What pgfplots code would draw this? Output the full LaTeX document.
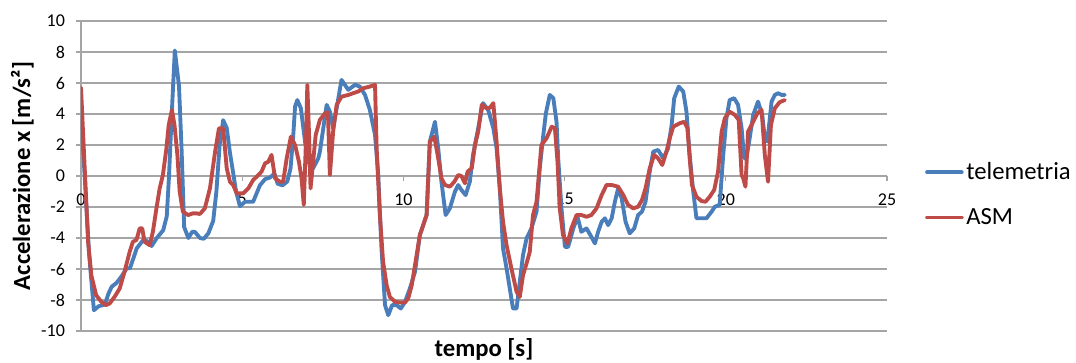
\documentclass[border=0pt]{standalone}
\usepackage{pgfplots}
\pgfplotsset{compat=1.18}
\usepackage{fontspec}
\setmainfont{Carlito}
\definecolor{telblue}{RGB}{74,126,187}
\definecolor{asmred}{RGB}{190,75,72}
\definecolor{gridgray}{RGB}{165,165,165}
\begin{document}
\begin{tikzpicture}
\path[use as bounding box] (-60.75pt,-24pt) rectangle (746.25pt,248.25pt);
\begin{axis}[
  at={(0pt,0pt)}, anchor=south west,
  scale only axis,
  width=604.5pt, height=232.5pt,
  xmin=0, xmax=25, ymin=-10, ymax=10,
  enlargelimits=false,
  axis x line=middle, axis y line=left,
  hide obscured x ticks=false,
  axis line style={draw=gridgray, line width=1pt, -},
  xtick={0,5,10,15,20,25},
  ytick={-10,-8,-6,-4,-2,0,2,4,6,8,10},
  ymajorgrids,
  major grid style={draw=gridgray, line width=1pt},
  tick style={draw=gridgray, line width=1pt},
  major tick length=3.5pt,
  tick align=outside,
  xtick align=outside,
  /pgf/number format/assume math mode=true,
  tick label style={font=\fontsize{13.5}{15}\selectfont, text=black},
  xticklabel style={yshift=-6pt},
  yticklabel style={xshift=-5pt},
  every axis x label/.style={at={(axis description cs:0.5,0)}, yshift=-14pt, anchor=center},
  every axis y label/.style={at={(axis description cs:0,0.5)}, xshift=-44pt, rotate=90, anchor=center},
  xlabel={\fontsize{18.5}{22}\selectfont\bfseries tempo [s]},
  ylabel={\fontsize{18.5}{22}\selectfont\bfseries Accelerazione x [m/s²]},
  legend style={at={(axis description cs:1.047,0.44)}, anchor=west, draw=none, fill=none,
    font=\fontsize{18.5}{21}\selectfont, row sep=16pt, inner sep=0pt},
  legend cell align=left,
  legend image code/.code={\draw[#1] (0pt,0pt) -- (26pt,0pt);},
  every axis plot/.append style={line width=2.9pt, line join=round, line cap=round},
]
\addplot[color=telblue] coordinates {
(0.0,4.0)(0.1,0.5)(0.25,-5.0)(0.4,-8.66)(0.55,-8.4)(0.74,-8.3)(0.85,-7.6)(0.95,-7.15)
(1.1,-6.9)(1.25,-6.5)(1.42,-5.95)(1.52,-5.95)(1.73,-4.66)(1.93,-4.13)(2.05,-4.2)(2.19,-4.52)
(2.35,-4.0)(2.55,-3.5)(2.66,-2.6)(2.73,0)(2.81,3.8)(2.91,8.1)(3.04,5.8)(3.12,1.7)
(3.2,-3.3)(3.33,-4.0)(3.45,-3.6)(3.53,-3.6)(3.69,-4.0)(3.81,-4.05)(3.95,-3.7)(4.1,-2.9)
(4.2,-1.0)(4.3,2.0)(4.41,3.6)(4.52,3.1)(4.62,1.5)(4.72,0.2)(4.81,-1.0)(4.93,-1.95)
(5.09,-1.66)(5.34,-1.66)(5.55,-0.6)(5.71,-0.2)(5.86,-0.1)(6.0,0.15)(6.1,-0.5)(6.25,-0.6)
(6.4,-0.35)(6.5,0.5)(6.58,2.5)(6.64,4.48)(6.71,4.9)(6.82,4.37)(6.95,2.2)(7.05,0.9)
(7.2,0.5)(7.36,1.14)(7.41,1.57)(7.62,4.59)(7.72,4.15)(7.82,3.08)(7.93,4.37)(8.08,6.2)
(8.29,5.56)(8.5,5.88)(8.65,5.77)(8.81,5.23)(8.96,4.26)(9.12,2.65)(9.22,0.06)(9.32,-4.67)
(9.43,-8.33)(9.53,-8.98)(9.65,-8.33)(9.79,-8.33)(9.92,-8.55)(10.05,-8.12)(10.2,-7.26)(10.36,-6.18)
(10.51,-3.81)(10.72,-2.52)(10.82,2.22)(10.98,3.5)(11.08,1.79)(11.18,-0.37)(11.31,-2.52)(11.44,-2.09)
(11.6,-1.0)(11.7,-0.58)(11.8,-0.9)(11.93,-1.23)(12.06,-0.37)(12.16,1.36)(12.32,3.08)(12.47,4.7)
(12.63,4.26)(12.79,3.08)(12.89,1.79)(12.99,-0.8)(13.09,-4.67)(13.2,-5.96)(13.3,-7.26)(13.4,-8.55)
(13.51,-8.55)(13.61,-6.83)(13.71,-5.1)(13.82,-4.03)(13.97,-3.38)(14.13,-2.3)(14.23,0.5)(14.34,2.65)
(14.42,4.05)(14.54,5.23)(14.65,5.02)(14.75,3.5)(14.8,1.2)(14.9,-2.0)(15.01,-4.57)(15.11,-4.57)
(15.27,-3.38)(15.4,-2.63)(15.52,-3.6)(15.68,-3.38)(15.83,-3.92)(15.94,-4.35)(16.04,-3.6)(16.15,-2.95)
(16.25,-2.73)(16.35,-3.17)(16.46,-2.73)(16.56,-1.66)(16.66,-0.8)(16.77,-1.44)(16.89,-2.95)(17.02,-3.7)
(17.16,-3.38)(17.28,-2.52)(17.4,-2.3)(17.51,-1.66)(17.64,0.28)(17.75,1.57)(17.9,1.68)(18.06,1.14)
(18.21,1.79)(18.32,3.29)(18.4,5.02)(18.54,5.77)(18.68,5.45)(18.78,4.15)(18.88,1.36)(18.99,-1.0)
(19.09,-2.73)(19.25,-2.73)(19.4,-2.73)(19.56,-2.3)(19.66,-1.98)(19.81,-1.87)(19.92,1.36)(20.02,3.73)
(20.12,4.9)(20.26,5.02)(20.38,4.59)(20.49,3.08)(20.57,1.14)(20.64,1.14)(20.74,2.43)(20.85,3.94)
(21.0,4.8)(21.13,3.94)(21.21,2.43)(21.29,2.22)(21.42,4.8)(21.52,5.23)(21.62,5.34)(21.73,5.23)(21.83,5.23)
};
\addlegendentry{telemetria}
\addplot[color=asmred] coordinates {
(0.0,5.7)(0.11,0.71)(0.22,-4.24)(0.32,-6.4)(0.47,-7.69)(0.63,-8.12)(0.78,-8.33)(0.89,-8.22)
(1.04,-7.8)(1.2,-7.26)(1.35,-6.18)(1.51,-4.89)(1.61,-4.24)(1.72,-4.13)(1.82,-3.38)(1.9,-3.38)
(1.97,-4.24)(2.13,-4.46)(2.23,-3.6)(2.34,-2.09)(2.44,-0.8)(2.54,0.06)(2.65,1.79)(2.72,3.29)
(2.82,4.26)(2.9,3.29)(2.99,1.36)(3.06,-1.0)(3.16,-2.3)(3.32,-2.52)(3.47,-2.41)(3.58,-2.41)
(3.69,-2.45)(3.84,-2.09)(4.0,-0.8)(4.16,1.57)(4.28,3.08)(4.41,3.08)(4.52,0.5)(4.62,-0.37)
(4.72,-0.58)(4.83,-1.12)(5.03,-1.12)(5.19,-0.8)(5.34,-0.26)(5.5,0.06)(5.6,0.28)(5.71,0.82)
(5.81,0.92)(5.91,1.36)(6.02,-0.15)(6.17,-0.37)(6.27,-0.37)(6.38,1.14)(6.51,2.54)(6.64,2.0)
(6.76,0.92)(6.84,-0.15)(6.91,-1.87)(6.98,2.43)(7.02,5.88)(7.07,2.86)(7.12,-0.8)(7.2,0.92)
(7.28,2.65)(7.41,3.62)(7.57,4.05)(7.66,4.1)(7.72,0.06)(7.82,2.86)(7.93,4.59)(8.08,5.12)
(8.29,5.23)(8.44,5.34)(8.6,5.45)(8.75,5.66)(8.96,5.77)(9.12,5.88)(9.17,1.79)(9.27,-2.52)
(9.37,-5.53)(9.48,-7.04)(9.58,-7.8)(9.74,-8.12)(9.89,-8.16)(10.05,-8.16)(10.15,-7.9)(10.26,-7.04)
(10.36,-5.75)(10.51,-3.81)(10.72,-2.52)(10.82,2.22)(10.96,2.54)(11.08,1.14)(11.18,-0.15)(11.29,-0.58)
(11.44,-0.69)(11.58,-0.37)(11.7,0.06)(11.8,0.0)(11.91,-0.47)(11.99,0.28)(12.12,0.5)(12.22,2.0)
(12.32,2.86)(12.43,4.59)(12.58,4.37)(12.68,4.4)(12.79,4.7)(12.89,2.22)(12.99,-0.8)(13.09,-2.95)
(13.2,-4.46)(13.35,-5.96)(13.51,-7.47)(13.61,-7.8)(13.71,-6.4)(13.82,-5.64)(13.92,-4.89)(14.02,-2.52)
(14.13,-1.66)(14.28,2.0)(14.44,2.43)(14.6,3.18)(14.7,3.08)(14.78,0.92)(14.85,-2.09)(14.95,-3.81)
(15.09,-4.35)(15.21,-3.38)(15.37,-2.52)(15.52,-2.52)(15.68,-2.63)(15.83,-2.52)(15.99,-2.09)(16.15,-1.23)
(16.3,-0.58)(16.46,-0.58)(16.66,-0.69)(16.82,-1.23)(16.97,-1.87)(17.13,-2.09)(17.28,-1.98)(17.4,-1.55)
(17.51,-0.8)(17.64,0.5)(17.78,1.36)(17.9,1.14)(18.03,0.71)(18.16,1.57)(18.26,2.43)(18.37,3.18)
(18.57,3.4)(18.71,3.5)(18.81,3.08)(18.88,1.14)(18.95,-0.58)(19.09,-1.34)(19.25,-1.62)(19.37,-1.66)
(19.5,-1.34)(19.64,-0.9)(19.76,0.28)(19.87,2.86)(19.97,3.73)(20.12,4.15)(20.28,3.94)(20.4,3.62)
(20.49,0.06)(20.54,-0.15)(20.61,-0.69)(20.69,2.86)(20.85,3.5)(20.98,4.05)(21.11,4.26)(21.21,1.36)
(21.31,-0.37)(21.4,3.29)(21.52,4.37)(21.67,4.76)(21.83,4.9)
};
\addlegendentry{ASM}
\end{axis}
\end{tikzpicture}
\end{document}
